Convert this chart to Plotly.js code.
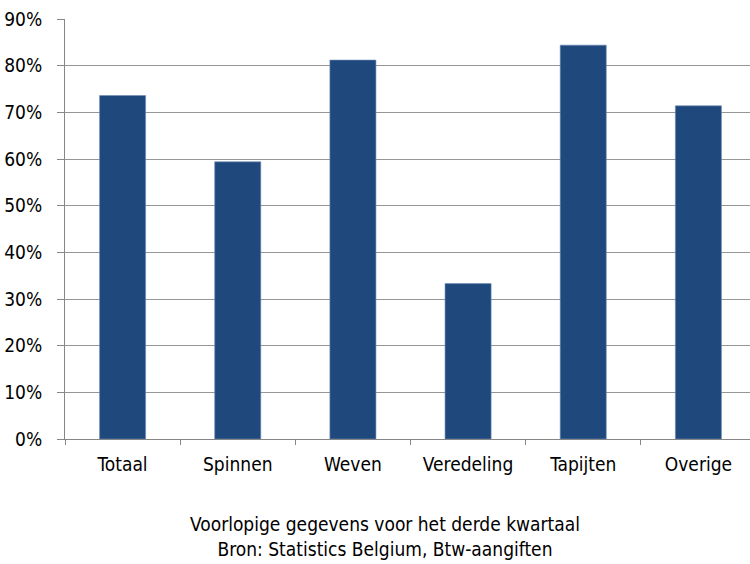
<!DOCTYPE html>
<html>
<head>
<meta charset="utf-8">
<script src="https://cdn.plot.ly/plotly-3.0.1.min.js"></script>
<style>html,body{margin:0;padding:0;background:#fff;}</style>
</head>
<body>
<div id="chart" style="width:750px;height:564px;"></div>
<script>
const categories = ["Totaal", "Spinnen", "Weven", "Veredeling", "Tapijten", "Overige"];
const shares = [0.736, 0.594, 0.812, 0.333, 0.844, 0.714];
const noteLines = ["Voorlopige gegevens voor het derde kwartaal", "Bron: Statistics Belgium, Btw-aangiften"];

const FONT = "'DejaVu Sans Condensed', 'Liberation Sans Narrow', sans-serif";

const trace = {
  type: 'bar',
  x: categories,
  y: shares,
  marker: {color: '#1F497D', line: {color: '#6f8db5', width: 0.6}},
  width: 0.4,
  hoverinfo: 'x+y'
};

const layout = {
  width: 750, height: 564,
  margin: {l: 65, r: 0, t: 19, b: 125},
  paper_bgcolor: '#ffffff', plot_bgcolor: '#ffffff',
  font: {family: FONT, size: 19, color: '#000000'},
  showlegend: false,
  bargap: 0.6,
  xaxis: {
    type: 'category',
    range: [-0.5, 5.448],
    showline: true, linecolor: '#868686', linewidth: 1,
    ticks: 'outside', tickson: 'boundaries', ticklen: 5, tickcolor: '#868686',
    showgrid: false, zeroline: false,
    tickfont: {family: FONT, size: 19, color: '#000'},
    ticklabelstandoff: 8
  },
  yaxis: {
    range: [0, 0.9],
    dtick: 0.1, tick0: 0,
    tickformat: '.0%',
    showline: true, linecolor: '#868686', linewidth: 1,
    ticks: 'outside', ticklen: 7, tickcolor: '#868686',
    showgrid: true, gridcolor: '#969696', gridwidth: 1,
    zeroline: false,
    tickfont: {family: FONT, size: 19, color: '#000'},
    ticklabelstandoff: 11
  },
  annotations: [{
    xref: 'paper', yref: 'paper',
    x: 0.467, y: -0.172,
    xanchor: 'center', yanchor: 'top',
    showarrow: false,
    align: 'center',
    text: noteLines.join('<br>'),
    font: {family: FONT, size: 19, color: '#000'}
  }]
};

Plotly.newPlot('chart', [trace], layout, {displayModeBar: false, responsive: false});
</script>
</body>
</html>
